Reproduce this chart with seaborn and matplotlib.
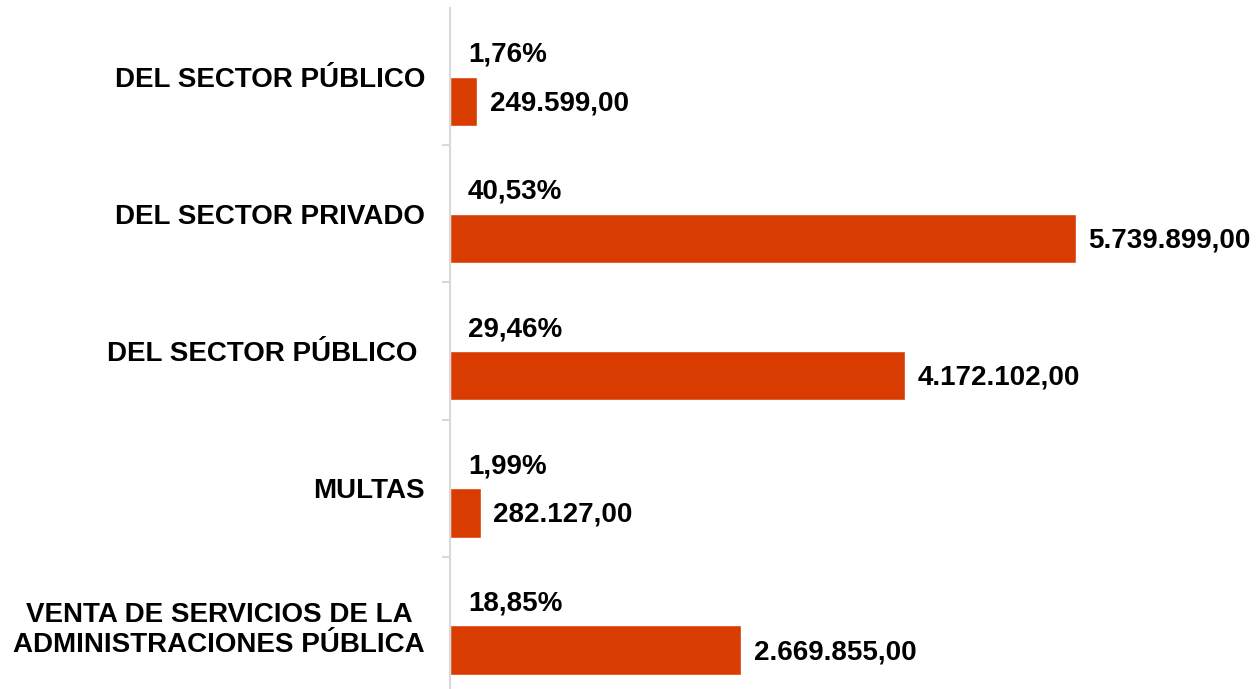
import pandas as pd
import matplotlib.pyplot as plt
import seaborn as sns

# Datos del gráfico
conceptos = ['DEL SECTOR PÚBLICO', 'DEL SECTOR PRIVADO', 'DEL SECTOR PÚBLICO ',
             'MULTAS', 'VENTA DE SERVICIOS DE LA\nADMINISTRACIONES PÚBLICA']
montos = [249599.00, 5739899.00, 4172102.00, 282127.00, 2669855.00]
porcentajes = [1.76, 40.53, 29.46, 1.99, 18.85]

color_barra = '#D93C01'

# Tabla larga: una serie invisible (porcentaje) y la serie de montos
ids = [str(i) for i in range(len(conceptos))]
df = pd.DataFrame({
    'id': ids * 2,
    'serie': ['pct'] * len(ids) + ['monto'] * len(ids),
    'valor': porcentajes + montos,
})

sns.set_style('white')
plt.rcParams['font.family'] = ['Liberation Sans', 'DejaVu Sans']

fig = plt.figure(figsize=(12.6, 6.89), dpi=100)
ax = fig.add_axes([450 / 1260, -5 / 689, 810 / 1260, 686 / 689])

sns.barplot(data=df, y='id', x='valor', hue='serie', hue_order=['pct', 'monto'],
            order=ids, palette={'pct': color_barra, 'monto': color_barra},
            width=0.72, dodge=True, legend=False, orient='h', saturation=1, ax=ax)

ax.set_xlim(0, 7.43e6)
ax.set_ylim(4.5, -0.5)

# Etiquetas
pct_labels = [f"{p:.2f}%".replace('.', ',') for p in porcentajes]
monto_labels = [f"{m:,.2f}".replace(',', 'X').replace('.', ',').replace('X', '.') for m in montos]
ax.bar_label(ax.containers[0], labels=pct_labels, padding=13,
             fontsize=20, fontweight='bold', color='black')
ax.bar_label(ax.containers[1], labels=monto_labels, padding=9,
             fontsize=20, fontweight='bold', color='black')
# bajar un poco las etiquetas (desplazamiento en puntos)
n = len(porcentajes)
for t in ax.texts[:n]:
    dx, dy = t.xyann
    t.xyann = (dx, dy - 2)
for t in ax.texts[n:]:
    dx, dy = t.xyann
    t.xyann = (dx, dy - 1.5)

# Ejes
ax.set_yticks(range(len(conceptos)))
ax.set_yticklabels(conceptos, fontsize=20, fontweight='bold', multialignment='center',
                   color='black')
ax.set_yticks([0.5, 1.5, 2.5, 3.5], minor=True)
ax.tick_params(axis='y', which='major', left=False, length=0, pad=18)
ax.tick_params(axis='y', which='minor', left=True, length=6, width=1.5, color='#d9d9d9')
ax.set_xticks([])
ax.set_xlabel('')
ax.set_ylabel('')

for s in ['top', 'right', 'bottom']:
    ax.spines[s].set_visible(False)
ax.spines['left'].set_color('#d9d9d9')
ax.spines['left'].set_linewidth(1.5)

plt.savefig('out.png', dpi=100)
